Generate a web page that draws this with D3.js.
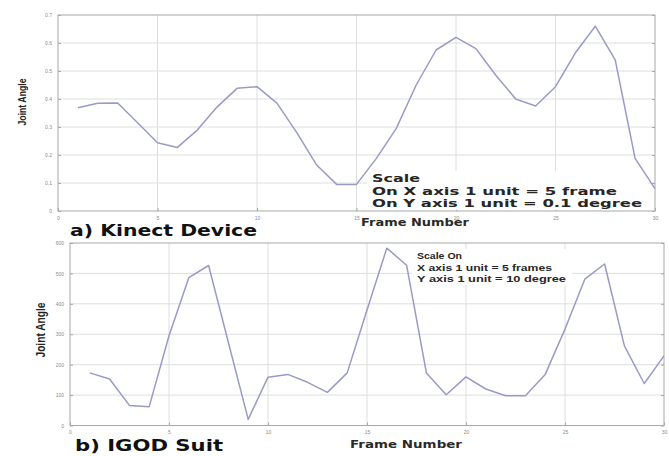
<!DOCTYPE html>
<html>
<head>
<meta charset="utf-8">
<script src="https://cdn.jsdelivr.net/npm/d3@7"></script>
<style>
  html, body { margin: 0; padding: 0; background: #fff; }
  svg { display: block; }
</style>
</head>
<body>
<svg id="chart" width="669" height="456"></svg>
<script>
// Frame index shared by both recordings
const frames = d3.range(1, 31);

// Joint angle measured with the Kinect device (0.1 degree per unit)
const kinectAngle = [0.369, 0.385, 0.386, 0.315, 0.244, 0.227, 0.289, 0.372, 0.438, 0.444,
                     0.385, 0.280, 0.164, 0.095, 0.095, 0.188, 0.295, 0.450, 0.575, 0.620,
                     0.580, 0.485, 0.400, 0.375, 0.444, 0.565, 0.660, 0.540, 0.188, 0.080];

// Joint angle measured with the IGOD suit (10 degree per unit)
const igodAngle = [173, 153, 66, 62, 295, 486, 526, 273, 20, 159,
                   168, 142, 109, 173, 380, 583, 527, 173, 101, 160,
                   120, 98, 98, 168, 317, 481, 531, 262, 138, 229];

const xTicks = [0, 5, 10, 15, 20, 25, 30];
const kinectYTicks = [0, 0.1, 0.2, 0.3, 0.4, 0.5, 0.6, 0.7];
const igodYTicks = [0, 100, 200, 300, 400, 500, 600];

const kinectNote = ["Scale", "On X axis 1 unit = 5 frame", "On Y axis 1 unit = 0.1 degree"];
const igodNote = ["Scale On", "X axis 1 unit = 5 frames", "Y axis 1 unit = 10 degree"];

const svg = d3.select("#chart");
const lineColor = "#9a9ac8";

// draws a text and stretches it to a given width
function fitText(sel, width) {
  if (width) sel.attr("textLength", width).attr("lengthAdjust", "spacingAndGlyphs");
  return sel;
}

function panel(opt) {
  const x = d3.scaleLinear().domain([0, 30]).range([opt.left, opt.right]);
  const y = d3.scaleLinear().domain(opt.yDomain).range([opt.bottom, opt.top]);
  const g = svg.append("g");

  // grid
  g.append("g").selectAll("line").data(xTicks.slice(1, -1)).join("line")
    .attr("x1", d => x(d)).attr("x2", d => x(d))
    .attr("y1", opt.top).attr("y2", opt.bottom)
    .attr("stroke", "#dedede").attr("stroke-width", 1);
  g.append("g").selectAll("line").data(opt.yTicks.slice(1, -1)).join("line")
    .attr("y1", d => y(d)).attr("y2", d => y(d))
    .attr("x1", opt.left).attr("x2", opt.right)
    .attr("stroke", "#dedede").attr("stroke-width", 1);

  // frame
  g.append("rect")
    .attr("x", opt.left).attr("y", opt.top)
    .attr("width", opt.right - opt.left).attr("height", opt.bottom - opt.top)
    .attr("fill", "none").attr("stroke", "#a8a8a8").attr("stroke-width", 1);

  // axes (tick marks drawn inward, small grey labels)
  const gx = g.append("g").attr("transform", `translate(0,${opt.bottom})`)
    .call(d3.axisBottom(x).tickValues(xTicks).tickSize(-3).tickPadding(5)
      .tickFormat(d3.format("d")));
  const gy = g.append("g").attr("transform", `translate(${opt.left},0)`)
    .call(d3.axisLeft(y).tickValues(opt.yTicks).tickSize(-3).tickPadding(6)
      .tickFormat(opt.yFormat));
  const gyr = g.append("g").attr("transform", `translate(${opt.right},0)`)
    .call(d3.axisRight(y).tickValues(opt.yTicks).tickSize(-3).tickFormat(""));
  [gx, gy, gyr].forEach(a => {
    a.select(".domain").remove();
    a.selectAll(".tick line").attr("stroke", "#a8a8a8");
    a.selectAll(".tick text").attr("fill", "#8a8a8a")
      .style("font-family", "Liberation Sans, sans-serif").style("font-size", "5px");
  });

  // scale note on a white box
  const n = opt.note;
  g.append("rect")
    .attr("x", n.box[0]).attr("y", n.box[1]).attr("width", n.box[2]).attr("height", n.box[3])
    .attr("fill", "#fff");
  g.append("g").selectAll("text").data(n.lines).join("text")
    .attr("x", n.x).attr("y", (d, i) => n.y + i * n.step)
    .attr("fill", "#262626")
    .style("font-family", n.font).style("font-weight", "bold").style("font-size", n.size + "px")
    .text(d => d)
    .each(function(d, i) { fitText(d3.select(this), n.widths && n.widths[i]); });

  // data line
  const line = d3.line().x((d, i) => x(frames[i])).y(d => y(d));
  g.append("path").datum(opt.values)
    .attr("d", line)
    .attr("fill", "none").attr("stroke", lineColor).attr("stroke-width", 1.5)
    .attr("stroke-linejoin", "round");

  // axis titles
  fitText(g.append("text")
    .attr("transform", `translate(${opt.yTitle[0]},${opt.yTitle[1]}) rotate(-90)`)
    .attr("text-anchor", "middle").attr("fill", "#222")
    .style("font-family", opt.yTitleFont).style("font-weight", "bold")
    .style("font-size", opt.yTitleSize + "px")
    .text("Joint Angle"), opt.yTitle[2]);
  fitText(g.append("text")
    .attr("x", opt.xTitle[0] - opt.xTitle[2] / 2).attr("y", opt.xTitle[1])
    .attr("fill", "#2a2a2a")
    .style("font-family", "DejaVu Sans, sans-serif").style("font-weight", "bold")
    .style("font-size", "10px")
    .text("Frame Number"), opt.xTitle[2]);

  // panel caption
  fitText(g.append("text")
    .attr("x", opt.caption[0]).attr("y", opt.caption[1])
    .attr("fill", "#111")
    .style("font-family", "DejaVu Sans, sans-serif").style("font-weight", "bold")
    .style("font-size", "16px")
    .text(opt.caption[2]), opt.caption[3]);
}

panel({
  left: 58, right: 655, top: 15, bottom: 211,
  yDomain: [0, 0.7], yTicks: kinectYTicks, yFormat: d3.format(".1~f"),
  values: kinectAngle,
  note: { lines: kinectNote, x: 372, y: 182, step: 12.5, size: 10,
          font: "DejaVu Sans, sans-serif", widths: [48, 245, 270],
          box: [367, 171, 281, 39] },
  yTitle: [26, 102, 47], yTitleFont: "Liberation Sans Narrow, sans-serif", yTitleSize: 11,
  xTitle: [415, 226, 108],
  caption: [70, 236, "a) Kinect Device", 187]
});

panel({
  left: 70, right: 664, top: 243, bottom: 425.5,
  yDomain: [0, 600], yTicks: igodYTicks, yFormat: d3.format("d"),
  values: igodAngle,
  note: { lines: igodNote, x: 417, y: 259, step: 11.5, size: 9.5,
          font: "Liberation Sans, sans-serif", widths: [45, 135, 149],
          box: [412, 249, 160, 36] },
  yTitle: [45, 330, 55], yTitleFont: "Liberation Sans, sans-serif", yTitleSize: 12,
  xTitle: [406, 448, 112],
  caption: [75, 451, "b) IGOD Suit", 148]
});
</script>
</body>
</html>
